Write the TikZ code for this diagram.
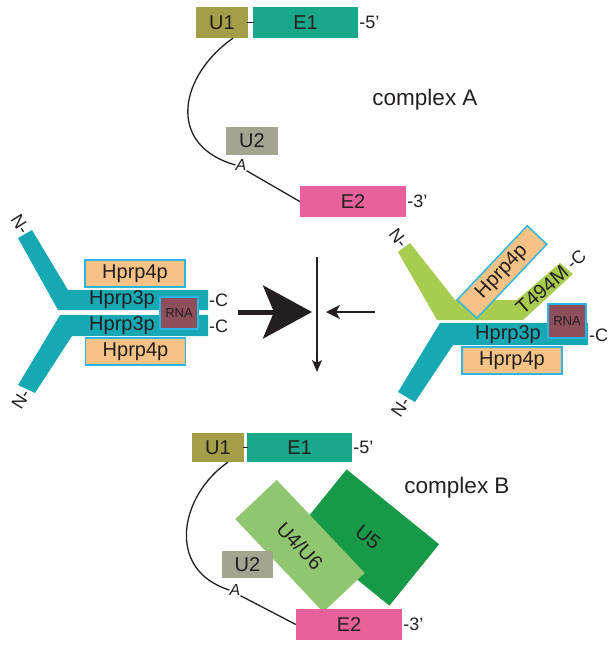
\documentclass[tikz,border=0pt]{standalone}
\usepackage{fontspec}
\setmainfont{Liberation Sans}
\usetikzlibrary{arrows.meta}
\definecolor{txt}{HTML}{231F20}
\definecolor{uone}{HTML}{A39E48}
\definecolor{eone}{HTML}{19A78A}
\definecolor{utwo}{HTML}{A3A592}
\definecolor{etwo}{HTML}{E8619B}
\definecolor{tealp}{HTML}{16A9B3}
\definecolor{greenp}{HTML}{A8CC4F}
\definecolor{hfour}{HTML}{F6C286}
\definecolor{cyanb}{HTML}{2BB5E5}
\definecolor{rnac}{HTML}{8E4F5A}
\definecolor{ufive}{HTML}{179A48}
\definecolor{ufour}{HTML}{8FC66F}
\newcommand\myfs[1]{\fontsize{#1}{#1}\selectfont}
\begin{document}
\begin{tikzpicture}[x=1pt,y=-1pt,
  blk/.style={inner sep=0pt, text=txt, font=\myfs{20}},
  prot/.style={blk, fill=hfour, draw=cyanb, line width=1.4pt, minimum width=100pt, minimum height=27pt},
  rnabox/.style={inner sep=0pt, fill=rnac, draw=cyanb, line width=1.4pt, text=txt, font=\myfs{13}, minimum width=38pt},
  lbl/.style={inner sep=0pt, text=txt, font=\myfs{20}},
  endlbl/.style={inner sep=1pt, text=txt, font=\myfs{18}},
  bigtitle/.style={inner sep=0pt, text=txt, font=\myfs{22.5}},
  rna/.style={draw=txt, line width=1.3pt},
  brp/.style={inner sep=0pt, text=txt, font=\itshape\myfs{16}},
]
\useasboundingbox (0,0) rectangle (612,648);

% ---------------- complex A ----------------
\node[blk, fill=uone, minimum width=52pt, minimum height=31pt] (u1a) at (222,22.5) {U1};
\node[blk, fill=eone, minimum width=105pt, minimum height=31pt] (e1a) at (305.5,22.5) {E1};
\node[blk, fill=utwo, minimum width=52pt, minimum height=28pt] (u2a) at (252,141) {U2};
\node[blk, fill=etwo, minimum width=106pt, minimum height=31pt] (e2a) at (353,201.5) {E2};
\node[endlbl, anchor=west] (fivea) at (e1a.east) {-5’};
\node[endlbl, anchor=west] (threea) at (e2a.east) {-3’};
\node[brp] (bpa) at (241,165) {A};
\draw[rna] ([xshift=-1pt]u1a.east) -- ([xshift=1pt]e1a.west);
\draw[rna] ([xshift=11pt]u1a.south) .. controls (180,75) and (165,145) .. (bpa.west);
\draw[rna] (bpa.south east) -- (e2a.west);
\node[bigtitle] (cA) at (425,100) {complex A};

% ---------------- left complex ----------------
\fill[tealp] (18,238) -- (32,230) -- (68,290) -- (208,290) -- (208,310) -- (58,310) -- cycle;
\fill[tealp] (60,315) -- (208,315) -- (208,336) -- (72,336) -- (35,393) -- (18,385) -- cycle;
\node[prot] (h4lu) at (135,273.5) {Hprp4p};
\node[prot] (h4ll) at (135.5,351.5) {Hprp4p};
\node[lbl] (h3lu) at (122,300) {Hprp3p};
\node[lbl] (h3ll) at (122,325.5) {Hprp3p};
\node[rnabox, minimum height=32pt] (rnal) at (179,313) {RNA};
\node[endlbl, anchor=west] (clu) at (208,300) {-C};
\node[endlbl, anchor=west] (cll) at (208,326) {-C};
\node[endlbl, anchor=east, rotate=-58] (nlu) at (26,233) {N-};
\node[endlbl, anchor=east, rotate=58] (nll) at (26.5,390) {N-};

% ---------------- arrows ----------------
\coordinate (bigS) at (238,312);
\coordinate (bigT) at (312,312);
\coordinate (smS) at (375,312);
\coordinate (smT) at (326,312);
\coordinate (vS) at (317,257);
\coordinate (vT) at (317,372);
\draw[txt, line width=5pt, -{Stealth[length=49pt,width=53pt,inset=11pt]}] (bigS) -- (bigT);
\draw[txt, line width=1.3pt, -{Stealth[length=14pt,width=14pt,inset=4pt]}] (smS) -- (smT);
\draw[txt, line width=1.4pt, -{Stealth[length=12pt,width=10pt,inset=3pt]}] (vS) -- (vT);

% ---------------- right complex ----------------
\fill[greenp] (398,252) -- (410,243) -- (455,300) -- (517,300) -- (560,263) -- (573,274) -- (523,320) -- (437,320) -- cycle;
\fill[tealp] (440,323) -- (588,323) -- (588,345) -- (453,345) -- (415,402) -- (398,392) -- cycle;
\node[prot, minimum width=102pt, rotate=46.6] (h4ru) at (502,272) {Hprp4p};
\node[prot] (h4rl) at (512,360.5) {Hprp4p};
\node[lbl, rotate=41] (tm) at (542,290) {T494M};
\node[lbl] (h3r) at (508,335) {Hprp3p};
\node[rnabox, minimum height=34pt] (rnar) at (567,321) {RNA};
\node[endlbl, anchor=west] (cr) at (588,335) {-C};
\node[endlbl, anchor=west, rotate=41] (cru) at (568,267) {-C};
\node[endlbl, anchor=east, rotate=-53] (nru) at (405,247) {N-};
\node[endlbl, anchor=east, rotate=56] (nrl) at (406.5,398) {N-};

% ---------------- complex B ----------------
\node[blk, fill=ufive, minimum width=119pt, minimum height=79pt, rotate=-39] (u5) at (368,537.5) {U5};
\node[blk, fill=ufour, minimum width=128pt, minimum height=57pt, rotate=-46.6] (u46) at (300,546) {U4/U6};
\node[blk, fill=uone, minimum width=52pt, minimum height=29pt] (u1b) at (218,447.5) {U1};
\node[blk, fill=eone, minimum width=105pt, minimum height=29pt] (e1b) at (299.5,447.5) {E1};
\node[blk, fill=utwo, minimum width=51pt, minimum height=27pt] (u2b) at (247.5,564.5) {U2};
\node[blk, fill=etwo, minimum width=106pt, minimum height=31pt] (e2b) at (349,624.5) {E2};
\node[endlbl, anchor=west] (fiveb) at (e1b.east) {-5’};
\node[endlbl, anchor=west] (threeb) at (e2b.east) {-3’};
\node[brp] (bpb) at (235,590) {A};
\draw[rna] ([xshift=-1pt]u1b.east) -- ([xshift=1pt]e1b.west);
\draw[rna] ([xshift=10pt]u1b.south) .. controls (180,495) and (165,570) .. (bpb.west);
\draw[rna] (bpb.south east) -- (e2b.west);
\node[bigtitle] (cB) at (457,488) {complex B};
\end{tikzpicture}
\end{document}
